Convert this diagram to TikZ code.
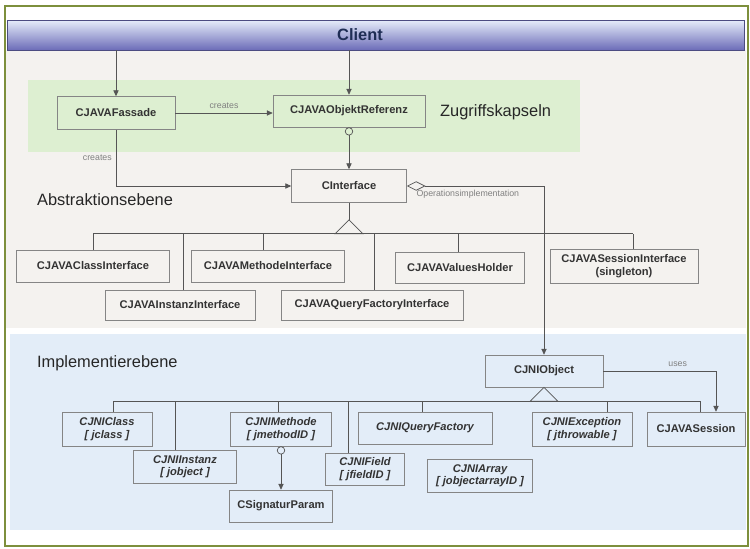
\documentclass[tikz,border=0pt]{standalone}
\usepackage{fontspec}
\setmainfont{Liberation Sans}
\usetikzlibrary{arrows.meta,positioning}

\definecolor{framegreen}{HTML}{7D8F3C}
\definecolor{absbg}{HTML}{F4F2EF}
\definecolor{zugbg}{HTML}{DDEFD1}
\definecolor{implbg}{HTML}{E3EDF8}
\definecolor{boxgray}{HTML}{858585}
\definecolor{linegray}{HTML}{555555}
\definecolor{clienttop}{HTML}{E6EDFA}
\definecolor{clientbot}{HTML}{6C6CB8}
\definecolor{clienttext}{HTML}{1F2D55}

\tikzset{
  cls/.style={draw=boxgray,line width=0.5pt,inner sep=1pt,align=center,text=black!80,font=\fontsize{9.5}{10.5}\selectfont\bfseries},
  jni/.style={cls,font=\fontsize{9.5}{10.5}\selectfont\bfseries\itshape},
  link/.style={draw=linegray,line width=0.6pt},
  tip/.style={link,-{Triangle[length=5pt,width=4.5pt]}},
  lbl/.style={font=\fontsize{7.5}{8}\selectfont,text=gray},
  layer/.style={anchor=west,font=\fontsize{14}{16}\selectfont,text=black!85}
}

\begin{document}
\begin{tikzpicture}[x=0.03cm,y=-0.03cm]
    \useasboundingbox (0,0) rectangle (750,548);
    % background layers
    \fill[white] (0,0) rectangle (750,548);
    \fill[absbg] (6,50) rectangle (746,328);
    \fill[zugbg] (28,80) rectangle (580,152);
    \fill[implbg] (10,334) rectangle (746,530);
    \draw[framegreen,line width=1.2pt] (5,6) rectangle (748,546);

    \node (client) at (376,35) [minimum width=22.11cm,minimum height=0.9cm,top color=clienttop,bottom color=clientbot,draw=clientbot!70!black,line width=0.4pt] {};
    \node (clientlbl) at (360,35) [font=\fontsize{14}{16}\selectfont\bfseries,text=clienttext] {Client};

    % Zugriffskapseln
    \node (fass) at (116,113) [cls,minimum width=3.54cm,minimum height=0.99cm] {CJAVAFassade};
    \node (ref) at (349,111) [cls,minimum width=4.56cm,minimum height=0.96cm] {CJAVAObjektReferenz};
    \node[layer] (zug) at (436,112) {Zugriffskapseln};

    % Abstraktionsebene
    \node (ci) at (349,186) [cls,minimum width=3.45cm,minimum height=0.99cm] {CInterface};
    \node[layer] (abs) at (33,200) {Abstraktionsebene};
    \node (classif) at (93,266) [cls,minimum width=4.59cm,minimum height=0.96cm] {CJAVAClassInterface};
    \node (instif) at (180,305) [cls,minimum width=4.5cm,minimum height=0.9cm] {CJAVAInstanzInterface};
    \node (methif) at (268,266) [cls,minimum width=4.59cm,minimum height=0.96cm] {CJAVAMethodeInterface};
    \node (queryif) at (372,305) [cls,minimum width=5.46cm,minimum height=0.9cm] {CJAVAQueryFactoryInterface};
    \node (values) at (460,268) [cls,minimum width=3.87cm,minimum height=0.93cm] {CJAVAValuesHolder};
    \node (sessif) at (624,266) [cls,minimum width=4.44cm,minimum height=1.02cm] {CJAVASessionInterface\\(singleton)};

    % Implementierebene
    \node[layer] (impl) at (33,363) {Implementierebene};
    \node (jniobj) at (544,371) [cls,minimum width=3.54cm,minimum height=0.96cm] {CJNIObject};
    \node (jclass) at (107,429) [jni,minimum width=2.7cm,minimum height=1.02cm] {CJNIClass\\{[} jclass {]}};
    \node (jinst) at (185,467) [jni,minimum width=3.09cm,minimum height=0.99cm] {CJNIInstanz\\{[} jobject {]}};
    \node (jmeth) at (281,429) [jni,minimum width=3.03cm,minimum height=1.02cm] {CJNIMethode\\{[} jmethodID {]}};
    \node (sig) at (281,506) [cls,minimum width=3.09cm,minimum height=0.96cm] {CSignaturParam};
    \node (jfield) at (365,469) [jni,minimum width=2.37cm,minimum height=0.96cm] {CJNIField\\{[} jfieldID {]}};
    \node (jquery) at (425,428) [jni,minimum width=4.02cm,minimum height=0.96cm] {CJNIQueryFactory};
    \node (jarray) at (480,476) [jni,minimum width=3.15cm,minimum height=0.99cm] {CJNIArray\\{[} jobjectarrayID {]}};
    \node (jexc) at (582,429) [jni,minimum width=3.0cm,minimum height=1.02cm] {CJNIException\\{[} jthrowable {]}};
    \node (jsess) at (696,429) [cls,minimum width=2.94cm,minimum height=1.02cm] {CJAVASession};

    % Client und Kapseln
    \draw[tip] (fass.north |- client.south) -- (fass.north);
    \draw[tip] (ref.north |- client.south) -- (ref.north);
    \draw[tip] (fass.east) -- node[lbl,above] {creates} (fass.east -| ref.west);
    \draw[tip] (fass.south) |- node[lbl,pos=0.25,left] {creates} (ci.west);
    \draw[link,{Circle[open,length=7pt]}-{Triangle[length=5pt,width=4.5pt]}] (ref.south) -- (ci.north);
    \draw[link,{Diamond[open,length=16pt,width=8pt]}-{Triangle[length=5pt,width=4.5pt]}] (ci.east) -| node[lbl,pos=0.02,below right] {Operationsimplementation} (jniobj.north);

    % Vererbung Abstraktionsebene
    \draw[link] (ci.south) -- ++(0,17) coordinate (ciapex);
    \draw[link,fill=absbg] (ciapex) -- ++(-14,14) coordinate (abus) -- ++(28,0) -- cycle;
    \foreach \n/\s in {classif/0,instif/0.09,methif/-0.15,queryif/0.06,values/-0.06,sessif/0.27} {
      \path ([xshift=\s cm]\n.north) coordinate (\n-up);
      \draw[link] (\n-up) -- (\n-up |- abus);
    }
    \draw[link] (classif-up |- abus) -- (sessif-up |- abus);

    % Vererbung Implementierebene
    \draw[link,fill=implbg] (jniobj.south) -- ++(-14,14) coordinate (jbus) -- ++(28,0) -- cycle;
    \foreach \n/\s in {jclass/0.18,jinst/-0.3,jmeth/-0.09,jfield/-0.51,jquery/-0.09,jexc/0.75,jsess/0.12} {
      \path ([xshift=\s cm]\n.north) coordinate (\n-up);
      \draw[link] (\n-up) -- (\n-up |- jbus);
    }
    \draw[link] (jclass-up |- jbus) -- (jsess-up |- jbus);

    \path ([xshift=0.6cm]jsess.north) coordinate (sessin);
    \draw[tip] (jniobj.east) -| node[lbl,pos=0.33,above] {uses} (sessin);
    \draw[link,{Circle[open,length=7pt]}-{Triangle[length=5pt,width=4.5pt]}] (jmeth.south) -- (sig.north);
\end{tikzpicture}
\end{document}
